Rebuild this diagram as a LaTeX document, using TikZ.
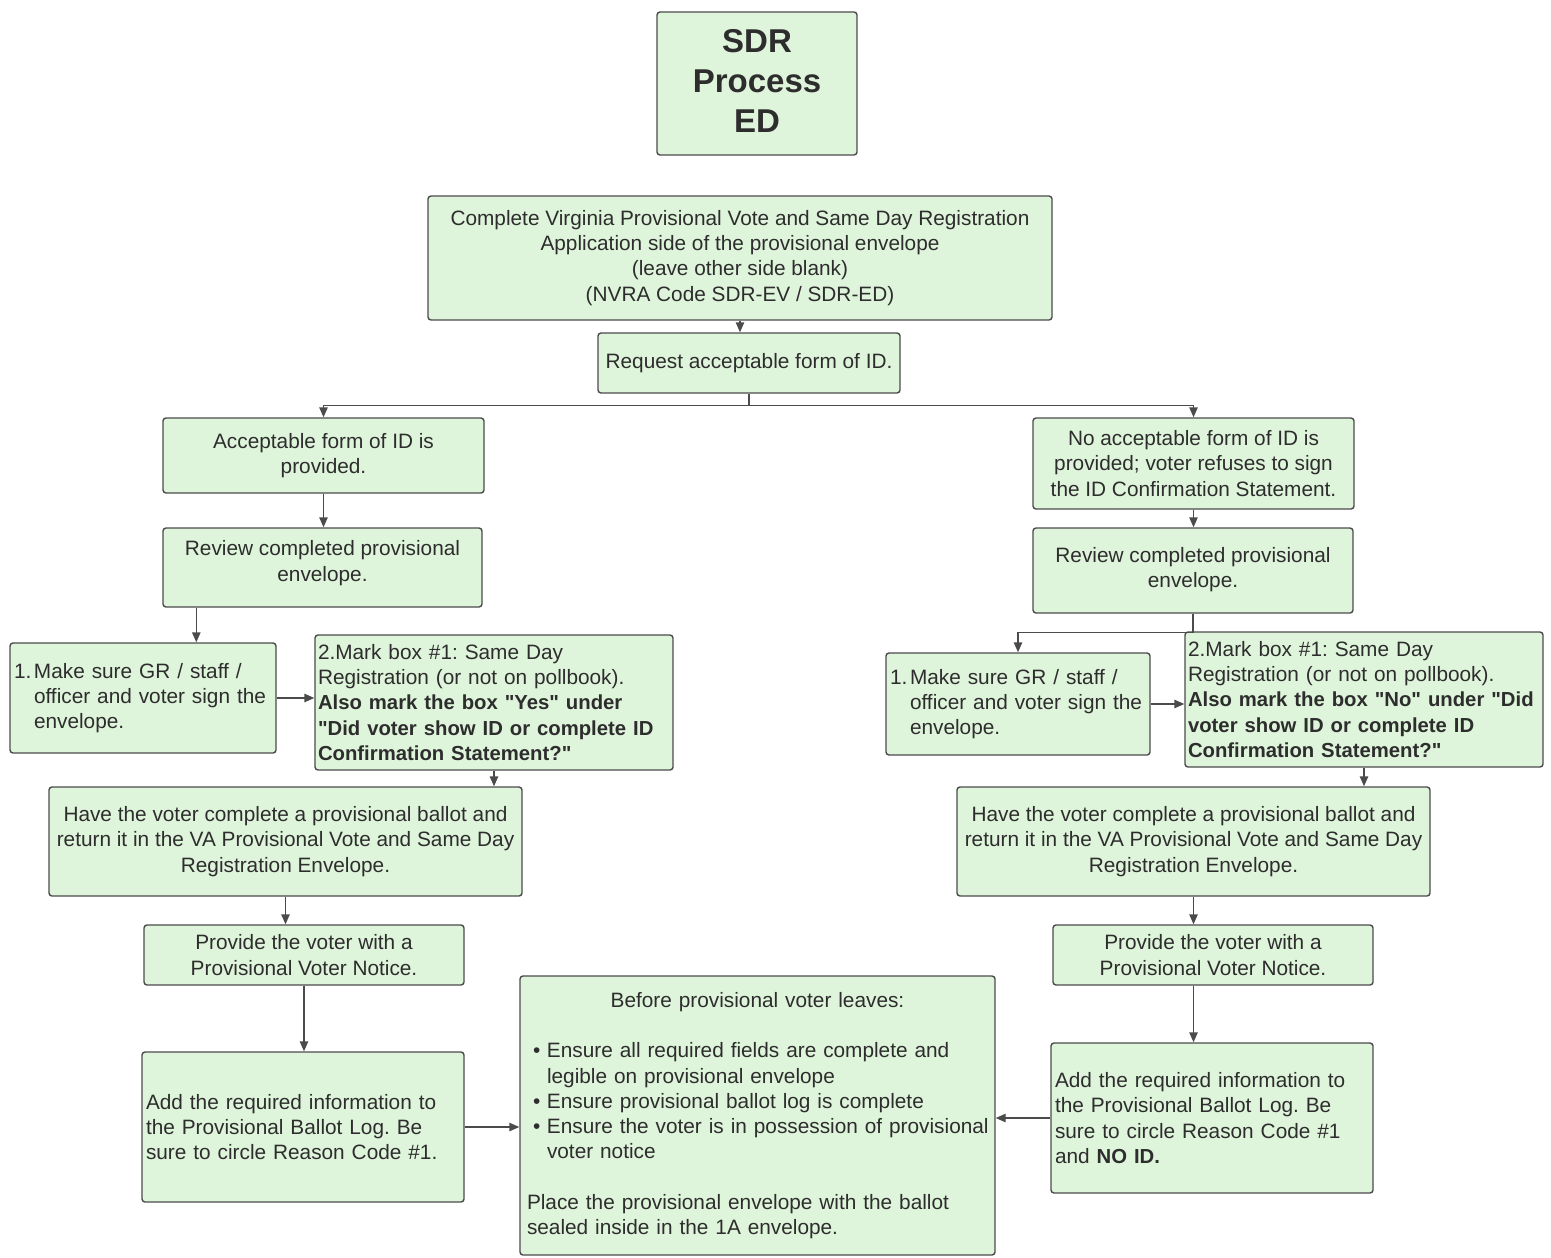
\documentclass[tikz,border=0pt]{standalone}
\usepackage{fontspec}
\setmainfont{Liberation Sans}
\newfontfamily\libsans{Liberation Sans}
\usetikzlibrary{arrows.meta,calc}
\definecolor{boxfill}{RGB}{223,245,219}
\definecolor{boxline}{RGB}{75,75,75}
\definecolor{txt}{RGB}{45,45,45}
\newcommand{\bfs}[1]{{\fontsize{10.15}{12.6}\selectfont\bfseries #1}}
\tikzset{
  box/.style={draw=boxline, fill=boxfill, line width=0.7pt, rounded corners=1.5pt,
    inner xsep=2pt, inner ysep=2pt, text=txt, font=\libsans\fontsize{10.4}{12.6}\selectfont\frenchspacing},
  cbox/.style={box, align=center},
  lbox/.style={box, align=left},
  titlebox/.style={box, align=center, font=\libsans\fontsize{16.5}{20}\selectfont\bfseries},
  arr/.style={draw=boxline, line width=0.7pt, -{Triangle[length=5pt,width=4.2pt]}},
}
\begin{document}
\begin{tikzpicture}[x=0.5pt,y=-0.5pt]
\useasboundingbox (0,0) rectangle (1551,1257);

% title
\node[titlebox, minimum width=100pt, minimum height=71.5pt] (title) at (757,83.5) {SDR\\Process\\ED\\[-17.5pt]\mbox{}};

\node[cbox, minimum width=312pt, minimum height=62pt] (comp) at (740,258)
 {Complete Virginia Provisional Vote and Same Day Registration\\Application side of the provisional envelope\\(leave other side blank)\\(NVRA Code SDR-EV / SDR-ED)};

\node[cbox, minimum width=151pt, minimum height=30pt] (req) at (749,363) {Request acceptable form of ID.};

% left branch
\node[cbox, minimum width=160.5pt, minimum height=37.5pt] (accL) at (323.5,455.5) {Acceptable form of ID is\\provided.};
\node[cbox, minimum width=159.5pt, minimum height=39.5pt] (revL) at (322.5,567.5) {Review completed provisional\\envelope.\\[-6.1pt]\mbox{}};
\node[lbox, text width=129pt, minimum height=55pt] (mkL) at (143,698)
 {\makebox[10pt][l]{1.}Make sure GR / staff /\\\hspace*{10pt}officer and voter sign the\\\hspace*{10pt}envelope.};
\node[lbox, inner xsep=1.5pt, text width=176pt, minimum height=67.5pt] (mtL) at (494,702.5)
 {2.Mark box \#1: Same Day\\Registration (or not on pollbook).\\\bfs{Also mark the box "Yes" under}\\\bfs{"Did voter show ID or complete ID}\\\bfs{Confirmation Statement?"}};
\node[cbox, minimum width=236.5pt, minimum height=54.5pt] (haveL) at (285.5,841.5)
 {Have the voter complete a provisional ballot and\\return it in the VA Provisional Vote and Same Day\\Registration Envelope.};
\node[cbox, minimum width=160pt, minimum height=30pt] (provL) at (304,955) {Provide the voter with a\\Provisional Voter Notice.};
\node[lbox, text width=157pt, minimum height=75pt] (addL) at (303,1127)
 {Add the required information to\\the Provisional Ballot Log. Be\\sure to circle Reason Code \#1.};

% center bottom
\node[box, inner xsep=3.5pt, text width=230.5pt, minimum height=139.5pt] (before) at (757.5,1115.5)
 {\makebox[\linewidth]{Before provisional voter leaves:}\\[12.6pt]
  \raggedright
  \mbox{\hspace*{3pt}\makebox[7pt][l]{\textbullet}Ensure all required fields are complete and}\\
  \mbox{\hspace*{10pt}legible on provisional envelope}\\
  \mbox{\hspace*{3pt}\makebox[7pt][l]{\textbullet}Ensure provisional ballot log is complete}\\
  \mbox{\hspace*{3pt}\makebox[7pt][l]{\textbullet}Ensure the voter is in possession of provisional}\\
  \mbox{\hspace*{10pt}voter notice}\\[12.6pt]
  \mbox{Place the provisional envelope with the ballot}\\
  \mbox{sealed inside in the 1A envelope.}};

% right branch
\node[cbox, minimum width=160.5pt, minimum height=45.5pt] (noR) at (1193.5,463.5)
 {No acceptable form of ID is\\provided; voter refuses to sign\\the ID Confirmation Statement.};
\node[cbox, minimum width=160pt, minimum height=42.5pt] (revR) at (1193,570.5) {Review completed provisional\\envelope.\\[-9.6pt]\mbox{}};
\node[lbox, text width=128pt, minimum height=51pt] (mkR) at (1018,704)
 {\makebox[10pt][l]{1.}Make sure GR / staff /\\\hspace*{10pt}officer and voter sign the\\\hspace*{10pt}envelope.};
\node[lbox, inner xsep=1.5pt, text width=176pt, minimum height=67.5pt] (mtR) at (1364,699.5)
 {2.Mark box \#1: Same Day\\Registration (or not on pollbook).\\\mbox{\bfs{Also mark the box "No" under "Did}}\\\bfs{voter show ID or complete ID}\\\bfs{Confirmation Statement?"}};
\node[cbox, minimum width=236.5pt, minimum height=54.5pt] (haveR) at (1193.5,841.5)
 {Have the voter complete a provisional ballot and\\return it in the VA Provisional Vote and Same Day\\Registration Envelope.};
\node[cbox, minimum width=160pt, minimum height=30pt] (provR) at (1213,955) {Provide the voter with a\\Provisional Voter Notice.};
\node[lbox, text width=157pt, minimum height=75pt] (addR) at (1212,1118)
 {Add the required information to\\the Provisional Ballot Log. Be\\sure to circle Reason Code \#1\\and \bfs{NO ID.}};

% connectors
\draw[arr] (comp.south) -- (comp.south |- req.north);
\draw[arr] (req.south) -- ($(req.south)+(0,12)$) -| (accL.north);
\draw[arr] (req.south) -- ($(req.south)+(0,12)$) -| (noR.north);

\draw[arr] (accL.south) -- (accL.south |- revL.north);
\draw[arr] ([xshift=17pt]revL.south west) -- ([xshift=17pt]revL.south west |- mkL.north);
\draw[arr] (mkL.east) -- (mkL.east -| mtL.west);
\draw[arr] (mtL.south) -- (mtL.south |- haveL.north);
\draw[arr] (haveL.south) -- (haveL.south |- provL.north);
\draw[arr] (provL.south) -- (provL.south |- addL.north);
\draw[arr] (addL.east) -- (addL.east -| before.west);

\draw[arr] (noR.south) -- (noR.south |- revR.north);
\draw[arr] (revR.south) -- ($(revR.south)+(0,19)$) -| (mkR.north);
\draw[arr] (mkR.east) -- (mkR.east -| mtR.west);
\draw[arr] (mtR.south) -- (mtR.south |- haveR.north);
\draw[arr] (haveR.south) -- (haveR.south |- provR.north);
\draw[arr] (provR.south -| haveR.south) -- (addR.north -| haveR.south);
\draw[arr] (addR.west) -- (addR.west -| before.east);
\end{tikzpicture}
\end{document}
